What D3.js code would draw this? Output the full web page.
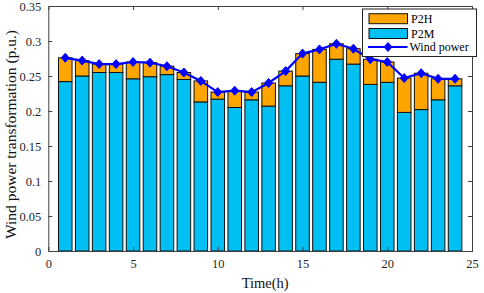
<!DOCTYPE html>
<html>
<head>
<meta charset="utf-8">
<script src="https://cdn.jsdelivr.net/npm/d3@7"></script>
<style>
  body { margin: 0; background: #fff; }
  text { font-family: "Liberation Serif", "Times New Roman", serif; }
</style>
</head>
<body>
<div id="chart"></div>
<script>
const hours = d3.range(1, 25)
const p2m = [0.242,0.250,0.255,0.255,0.246,0.249,0.252,0.245,0.213,0.217,0.205,0.216,
             0.207,0.236,0.250,0.241,0.274,0.267,0.238,0.241,0.198,0.202,0.216,0.236]
const p2h = [0.034,0.022,0.012,0.012,0.024,0.020,0.012,0.010,0.030,0.010,0.024,0.011,
             0.033,0.021,0.032,0.047,0.022,0.022,0.036,0.029,0.049,0.052,0.030,0.010]
const wind = [0.276,0.272,0.267,0.267,0.270,0.269,0.264,0.255,0.243,0.227,0.229,0.227,
              0.240,0.257,0.282,0.288,0.296,0.289,0.274,0.270,0.247,0.254,0.246,0.246]
const xTicks = [0, 5, 10, 15, 20, 25]
const yTicks = [0, 0.05, 0.1, 0.15, 0.2, 0.25, 0.3, 0.35]
const yTickLabels = ["0", "0.05", "0.1", "0.15", "0.2", "0.25", "0.3", "0.35"]

const width = 484
const height = 293
const margin = {left: 48.3, right: 12, top: 6, bottom: 42}

const svg = d3.select("#chart")
  .append("svg")
  .attr("width", width)
  .attr("height", height)

const x = d3.scaleLinear().domain([0, 25]).range([margin.left, width - margin.right])
const y = d3.scaleLinear().domain([0, 0.35]).range([height - margin.bottom, margin.top])

const orange = "#ffa500"
const cyan = "#00bff2"
const blue = "#0000ff"
const axisColor = "#404040"
const bw = x(0.8) - x(0)

// stacked bars
const stack = hours.map((h, i) => ({h, m: p2m[i], hh: p2h[i]}))

svg.append("g").selectAll("rect")
  .data(stack)
  .join("rect")
  .attr("x", d => x(d.h) - bw/2)
  .attr("width", bw)
  .attr("y", d => y(d.m))
  .attr("height", d => y(0) - y(d.m))
  .attr("fill", cyan)
  .attr("stroke", "#111")
  .attr("stroke-width", 1)

svg.append("g").selectAll("rect")
  .data(stack)
  .join("rect")
  .attr("x", d => x(d.h) - bw/2)
  .attr("width", bw)
  .attr("y", d => y(d.m + d.hh))
  .attr("height", d => y(d.m) - y(d.m + d.hh))
  .attr("fill", orange)
  .attr("stroke", "#111")
  .attr("stroke-width", 1)

// wind power line
const line = d3.line()
  .x((d, i) => x(hours[i]))
  .y(d => y(d))

svg.append("path")
  .datum(wind)
  .attr("d", line)
  .attr("fill", "none")
  .attr("stroke", blue)
  .attr("stroke-width", 2.2)

const diamond = (cx, cy) => `M${cx},${cy-4.5}L${cx+4},${cy}L${cx},${cy+4.5}L${cx-4},${cy}Z`

svg.append("g").selectAll("path")
  .data(wind)
  .join("path")
  .attr("d", (d, i) => diamond(x(hours[i]), y(d)))
  .attr("fill", blue)
  .attr("stroke", blue)

// axes
const tickLen = 4
const axisB = svg.append("g")
  .attr("transform", `translate(0,${y(0)})`)
  .call(d3.axisBottom(x).tickValues(xTicks).tickSize(-tickLen).tickPadding(8))
const axisT = svg.append("g")
  .attr("transform", `translate(0,${y(0.35)})`)
  .call(d3.axisTop(x).tickValues(xTicks).tickSize(-tickLen).tickFormat(""))
const axisL = svg.append("g")
  .attr("transform", `translate(${x(0)},0)`)
  .call(d3.axisLeft(y).tickValues(yTicks).tickSize(-tickLen).tickPadding(7)
    .tickFormat((d, i) => yTickLabels[i]))
const axisR = svg.append("g")
  .attr("transform", `translate(${x(25)},0)`)
  .call(d3.axisRight(y).tickValues(yTicks).tickSize(-tickLen).tickFormat(""))

;[axisB, axisT, axisL, axisR].forEach(g => {
  g.select(".domain").attr("stroke", axisColor)
  g.selectAll(".tick line").attr("stroke", axisColor)
  g.selectAll(".tick text")
    .attr("fill", "#262626")
    .style("font-size", "12.5px")
    .style("font-family", "'Liberation Serif', serif")
})
// no ticks at the box corners
axisB.selectAll(".tick").filter(d => d === 0 || d === 25).select("line").remove()
axisT.selectAll(".tick").filter(d => d === 0 || d === 25).select("line").remove()
axisL.selectAll(".tick").filter(d => d === 0 || d === 0.35).select("line").remove()
axisR.selectAll(".tick").filter(d => d === 0 || d === 0.35).select("line").remove()

// axis titles
svg.append("text")
  .attr("x", (x(0) + x(25)) / 2 + 5)
  .attr("y", 288)
  .attr("text-anchor", "middle")
  .style("font-size", "14.5px")
  .attr("fill", "#111")
  .text("Time(h)")

svg.append("text")
  .attr("transform", `translate(16,${(y(0) + y(0.35)) / 2 + 6}) rotate(-90)`)
  .attr("text-anchor", "middle")
  .style("font-size", "15.5px")
  .attr("fill", "#111")
  .text("Wind power transformation (p.u.)")

// legend
const lg = svg.append("g")
lg.append("rect")
  .attr("x", 362.5).attr("y", 9)
  .attr("width", 114).attr("height", 47.5)
  .attr("fill", "#fff")
  .attr("stroke", "#222")
  .attr("stroke-width", 1)

const legendItems = [
  {label: "P2H", color: orange, cy: 18.7},
  {label: "P2M", color: cyan, cy: 33.5}
]
legendItems.forEach(d => {
  lg.append("rect")
    .attr("x", 369).attr("y", d.cy - 5)
    .attr("width", 38.5).attr("height", 10)
    .attr("fill", d.color)
    .attr("stroke", "#111")
  lg.append("text")
    .attr("x", 411).attr("y", d.cy + 4)
    .style("font-size", "12px")
    .text(d.label)
})
lg.append("line")
  .attr("x1", 368).attr("x2", 407.5)
  .attr("y1", 47).attr("y2", 47)
  .attr("stroke", blue).attr("stroke-width", 2.2)
lg.append("path")
  .attr("d", diamond(388, 47))
  .attr("fill", blue).attr("stroke", blue)
lg.append("text")
  .attr("x", 409.5).attr("y", 51)
  .style("font-size", "12px")
  .text("Wind power")
</script>
</body>
</html>
